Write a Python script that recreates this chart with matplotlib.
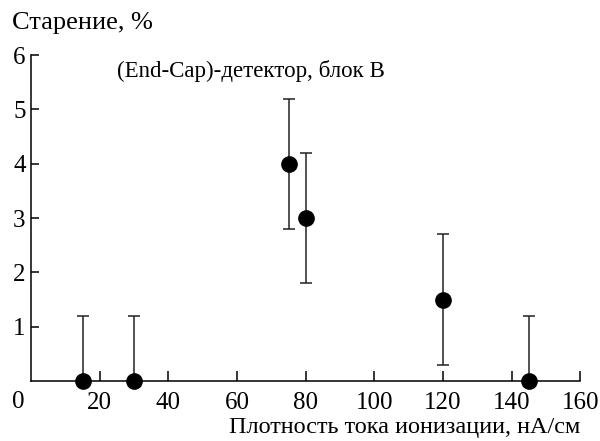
import matplotlib
matplotlib.use("Agg")
import matplotlib.pyplot as plt

x_vals = [15, 30, 75, 80, 120, 145]
y_vals = [0, 0, 4, 3, 1.5, 0]
err_low = [0, 0, 1.2, 1.2, 1.2, 0]
err_high = [1.2, 1.2, 1.2, 1.2, 1.2, 1.2]
x_ticks = [20, 40, 60, 80, 100, 120, 140, 160]
y_ticks = [1, 2, 3, 4, 5, 6]

plt.rcParams['font.family'] = ['Liberation Serif', 'DejaVu Serif']

fig = plt.figure(figsize=(6, 4.41), dpi=100)
ax = fig.add_axes([0.052, 0.136, 0.915, 0.739])

ax.errorbar(x_vals, y_vals, yerr=[err_low, err_high], fmt='o', color='black',
            ecolor='#222222', markersize=11, capsize=4, elinewidth=1.1,
            capthick=1.1, clip_on=False, zorder=3)

ax.set_xlim(0, 160)
ax.set_ylim(0, 6)
ax.set_xticks(x_ticks)
ax.set_yticks(y_ticks)
ax.tick_params(axis='x', direction='in', length=7, width=1.1, labelsize=18, pad=8)
ax.tick_params(axis='y', direction='in', length=6, width=1.1, labelsize=18, pad=4)
for s in ['top', 'right']:
    ax.spines[s].set_visible(False)
for s in ['left', 'bottom']:
    ax.spines[s].set_linewidth(1.1)

fig.text(18/600, 1 - 402/441, "0", fontsize=18, ha='center', va='center')
fig.text(12/600, 1 - 23/441, "Старение, %", fontsize=19, ha='left', va='center')
fig.text(117/600, 1 - 71/441, "(End-Cap)-детектор, блок B", fontsize=16.5, ha='left', va='center')
fig.text(580/600, 1 - 428/441, "Плотность тока ионизации, нА/см", fontsize=17.5, ha='right', va='center')

fig.savefig("out.png", dpi=100)
